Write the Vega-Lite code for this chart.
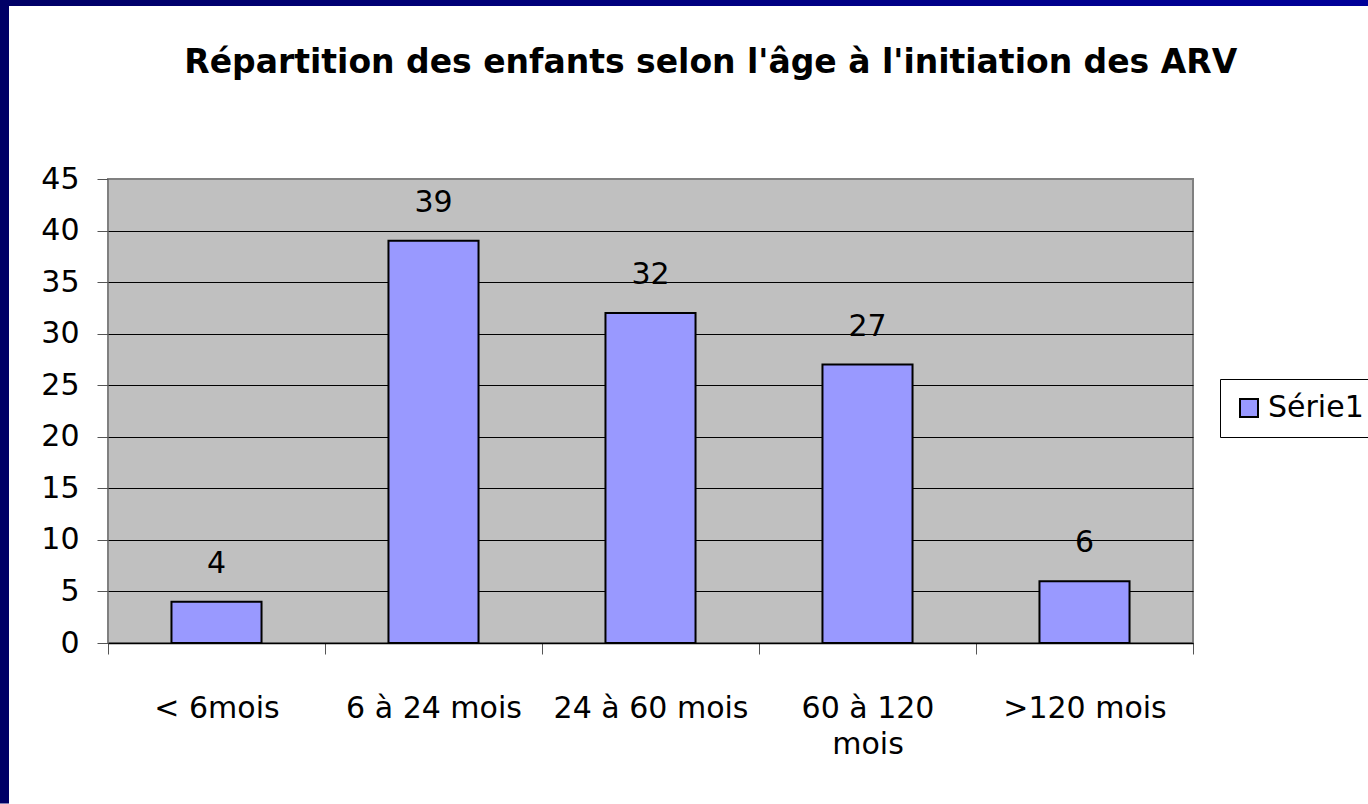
{
  "$schema": "https://vega.github.io/schema/vega-lite/v6.json",
  "background": "white",
  "padding": 0,
  "spacing": 0,
  "config": {"concat": {"spacing": 0}, "view": {"stroke": null}, "font": "DejaVu Sans"},
  "vconcat": [
    {
      "width": 1368, "height": 6,
      "data": {"values": [{"s": 1}]},
      "mark": {"type": "rect", "color": {"gradient": "linear", "x1": 0, "x2": 1, "y1": 0, "y2": 0, "stops": [{"offset": 0, "color": "#000066"}, {"offset": 1, "color": "#000099"}]}},
      "encoding": {}
    },
    {
      "spacing": 0,
      "hconcat": [
        {
          "width": 9, "height": 464,
          "data": {"values": [{"lo": -0.346, "hi": 1.3728}]},
          "mark": {"type": "rect", "color": "#000066"},
          "encoding": {
            "y": {"field": "lo", "type": "quantitative", "scale": {"domain": [0, 1], "nice": false, "zero": false}, "axis": null},
            "y2": {"field": "hi"}
          }
        },
        {
          "width": 1085, "height": 464,
          "title": {"text": "Répartition des enfants selon l'âge à l'initiation des ARV", "font": "DejaVu Sans", "fontSize": 33, "fontWeight": "bold", "color": "black", "frame": "bounds", "anchor": "middle", "offset": 84, "dx": 109},
          "data": {"values": [
            {"age": "< 6mois", "n": 4, "serie": "Série1"},
            {"age": "6 à 24 mois", "n": 39, "serie": "Série1"},
            {"age": "24 à 60 mois", "n": 32, "serie": "Série1"},
            {"age": "60 à 120 mois", "n": 27, "serie": "Série1"},
            {"age": ">120 mois", "n": 6, "serie": "Série1"}
          ]},
          "view": {"fill": "#c0c0c0", "stroke": "#808080", "strokeWidth": 2},
          "encoding": {
            "x": {"field": "age", "type": "nominal", "sort": null,
              "scale": {"paddingInner": 0, "paddingOuter": 0},
              "axis": {"title": null, "labelAngle": 0, "tickBand": "extent", "tickSize": 11, "tickColor": "#555555", "domainColor": "black", "domainWidth": 1.5, "labelFontSize": 30, "labelFont": "DejaVu Sans", "labelColor": "black", "labelPadding": 39, "labelBaseline": "top", "labelLineHeight": 36, "labelLimit": 400,
                "labelExpr": "datum.label == '60 à 120 mois' ? ['60 à 120', 'mois'] : datum.label"}
            }
          },
          "layer": [
            {
              "mark": {"type": "bar", "stroke": "black", "strokeWidth": 2, "width": {"band": 0.415}},
              "encoding": {
                "y": {"field": "n", "type": "quantitative", "scale": {"domain": [0, 45], "nice": false},
                  "axis": {"title": null, "values": [0, 5, 10, 15, 20, 25, 30, 35, 40, 45], "grid": true,
                    "gridColor": {"condition": {"test": "datum.value == 45", "value": "#808080"}, "value": "black"},
                    "gridWidth": 1, "domain": false, "tickColor": "#555555", "tickSize": 11, "labelFontSize": 30, "labelFont": "DejaVu Sans", "labelColor": "black", "labelPadding": 18, "minExtent": 98, "maxExtent": 98}},
                "color": {"field": "serie", "type": "nominal", "scale": {"range": ["#9999ff"]},
                  "legend": {"title": null, "orient": "none", "legendX": 1220, "legendY": 379, "symbolType": "square", "symbolSize": 324, "symbolStrokeColor": "black", "symbolStrokeWidth": 2, "labelFontSize": 30, "labelFont": "DejaVu Sans", "labelColor": "black", "labelOffset": 4, "padding": 14, "strokeColor": "black", "fillColor": "white"}}
              }
            },
            {
              "mark": {"type": "text", "baseline": "alphabetic", "dy": -29, "fontSize": 30, "font": "DejaVu Sans", "color": "black"},
              "encoding": {
                "y": {"field": "n", "type": "quantitative"},
                "text": {"field": "n", "type": "quantitative"}
              }
            }
          ]
        }
      ]
    }
  ]
}
